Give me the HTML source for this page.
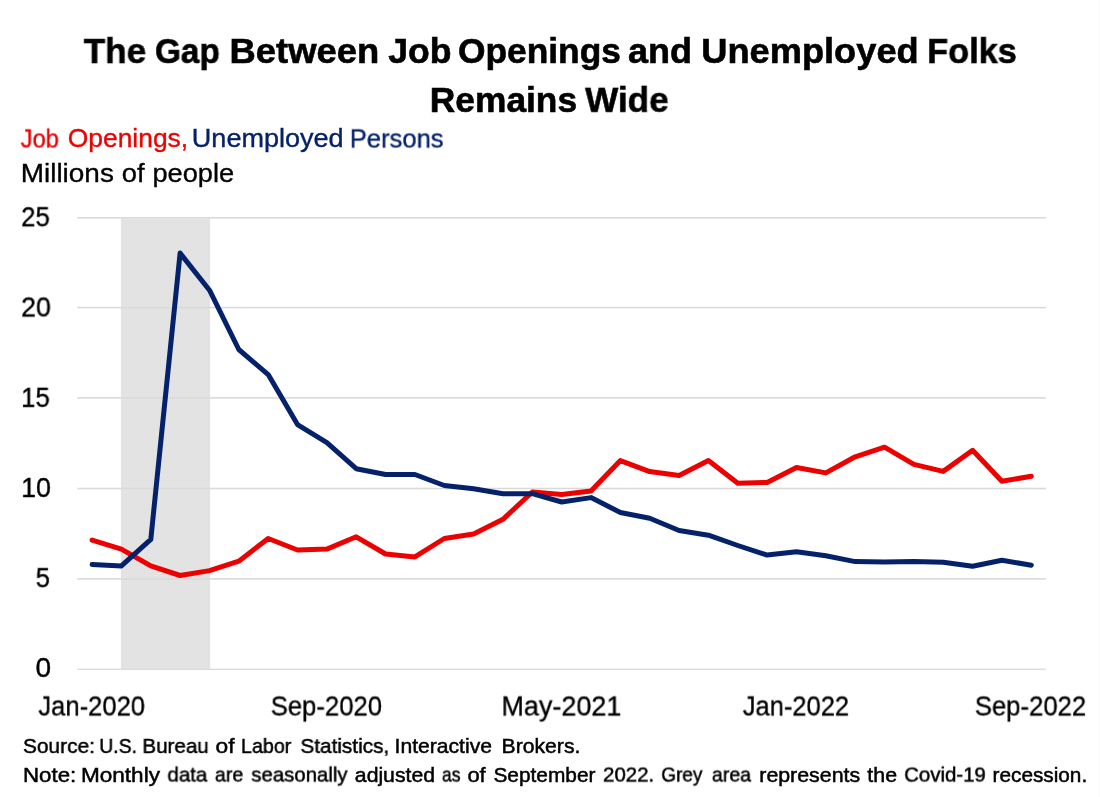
<!DOCTYPE html>
<html><head><meta charset="utf-8"><title>The Gap Between Job Openings and Unemployed Folks Remains Wide</title>
<style>
html,body{margin:0;padding:0;background:#fff}
body{width:1100px;height:797px;position:relative;overflow:hidden;font-family:"Liberation Sans",sans-serif}
.g{margin:0;padding:0;font-size:16px;font-weight:400}
.t{display:block;position:absolute;left:0;top:0;white-space:nowrap;line-height:1;transform-origin:0 0;will-change:transform;font-family:"Liberation Sans",sans-serif}
</style></head><body>
<svg width="1100" height="797" viewBox="0 0 1100 797" style="position:absolute;left:0;top:0">
<defs><pattern id="dt" width="2" height="2" patternUnits="userSpaceOnUse"><rect width="2" height="2" fill="#e4e4e4"/><rect width="1" height="1" fill="#dfdfdf"/></pattern></defs>
<rect x="120.9" y="218.6" width="89.2" height="450.8" fill="url(#dt)"/>
<rect x="77.2" y="217.00" width="968.7" height="1.6" fill="#dadada"/><rect x="77.2" y="306.80" width="968.7" height="1.6" fill="#dadada"/><rect x="77.2" y="397.10" width="968.7" height="1.6" fill="#dadada"/><rect x="77.2" y="487.70" width="968.7" height="1.6" fill="#dadada"/><rect x="77.2" y="578.10" width="968.7" height="1.6" fill="#dadada"/><rect x="77.2" y="668.60" width="968.7" height="1.5" fill="#dddddd"/>
<polyline points="92.1,540.1 121.4,549.1 150.8,565.9 180.1,575.5 209.5,570.6 238.8,561.2 268.2,538.5 297.5,550.0 326.9,549.1 356.2,536.8 385.6,554.0 414.9,556.9 444.3,538.5 473.6,534.0 503.0,519.3 532.3,492.0 561.7,494.6 591.0,491.1 620.4,460.6 649.7,471.6 679.1,475.6 708.4,460.6 737.8,483.2 767.1,482.5 796.5,467.5 825.8,472.9 855.2,456.8 884.5,447.2 913.9,464.4 943.2,471.4 972.6,450.3 1001.9,481.2 1031.3,476.3" fill="none" stroke="#ec0000" stroke-width="5" stroke-linejoin="round" stroke-linecap="round"/>
<polyline points="92.1,564.5 121.4,565.9 150.8,539.4 180.1,253.1 209.5,290.2 238.8,349.5 268.2,374.6 297.5,424.6 326.9,442.7 356.2,468.7 385.6,474.5 414.9,474.5 444.3,485.5 473.6,488.8 503.0,493.8 532.3,493.7 561.7,502.0 591.0,497.6 620.4,512.5 649.7,518.2 679.1,530.5 708.4,535.2 737.8,545.5 767.1,555.1 796.5,551.7 825.8,555.8 855.2,561.6 884.5,562.1 913.9,561.6 943.2,562.3 972.6,566.3 1001.9,560.3 1031.3,565.2" fill="none" stroke="#04216a" stroke-width="5" stroke-linejoin="round" stroke-linecap="round"/>
<rect x="1098" y="0" width="2" height="797" fill="#fcfcfc"/>
</svg>
<h1 class="g title">
<span class="t" style="font-size:35.17px;font-weight:700;color:#000;-webkit-text-stroke:0.6px #000;transform:translate3d(83.69px,33.05px,0) scaleX(0.9990)">The</span>
<span class="t" style="font-size:35.17px;font-weight:700;color:#000;-webkit-text-stroke:0.6px #000;transform:translate3d(154.97px,33.05px,0) scaleX(0.9471)">Gap</span>
<span class="t" style="font-size:35.17px;font-weight:700;color:#000;-webkit-text-stroke:0.6px #000;transform:translate3d(229.50px,33.05px,0) scaleX(1.0350)">Between</span>
<span class="t" style="font-size:35.17px;font-weight:700;color:#000;-webkit-text-stroke:0.6px #000;transform:translate3d(388.26px,33.05px,0) scaleX(1.0124)">Job</span>
<span class="t" style="font-size:35.17px;font-weight:700;color:#000;-webkit-text-stroke:0.6px #000;transform:translate3d(457.89px,33.05px,0) scaleX(1.0057)">Openings</span>
<span class="t" style="font-size:35.17px;font-weight:700;color:#000;-webkit-text-stroke:0.6px #000;transform:translate3d(628.11px,33.05px,0) scaleX(1.0233)">and</span>
<span class="t" style="font-size:35.17px;font-weight:700;color:#000;-webkit-text-stroke:0.6px #000;transform:translate3d(701.25px,33.05px,0) scaleX(1.0306)">Unemployed</span>
<span class="t" style="font-size:35.17px;font-weight:700;color:#000;-webkit-text-stroke:0.6px #000;transform:translate3d(927.12px,33.05px,0) scaleX(0.9768)">Folks</span>
<span class="t" style="font-size:35.32px;font-weight:700;color:#000;-webkit-text-stroke:0.6px #000;transform:translate3d(429.87px,81.85px,0) scaleX(1.0000)">Remains</span>
<span class="t" style="font-size:35.32px;font-weight:700;color:#000;-webkit-text-stroke:0.6px #000;transform:translate3d(585.17px,81.85px,0) scaleX(0.9926)">Wide</span>
</h1>
<div class="g legend">
<span class="t" style="font-size:26.38px;font-weight:400;color:#ec0000;-webkit-text-stroke:0.35px #ec0000;transform:translate3d(20.64px,125.44px,0) scaleX(0.9000)">Job</span>
<span class="t" style="font-size:26.38px;font-weight:400;color:#ec0000;-webkit-text-stroke:0.35px #ec0000;transform:translate3d(67.79px,125.44px,0) scaleX(1.0007)">Openings,</span>
<span class="t" style="font-size:26.38px;font-weight:400;color:#04216a;-webkit-text-stroke:0.35px #04216a;transform:translate3d(191.80px,125.44px,0) scaleX(1.0255)">Unemployed</span>
<span class="t" style="font-size:26.38px;font-weight:400;color:#04216a;-webkit-text-stroke:0.35px #04216a;transform:translate3d(349.77px,125.44px,0) scaleX(0.9695)">Persons</span>
</div>
<div class="g units">
<span class="t" style="font-size:26.38px;font-weight:400;color:#000;-webkit-text-stroke:0.35px #000;transform:translate3d(20.68px,160.34px,0) scaleX(1.0599)">Millions</span>
<span class="t" style="font-size:26.38px;font-weight:400;color:#000;-webkit-text-stroke:0.35px #000;transform:translate3d(121.84px,160.34px,0) scaleX(1.0360)">of</span>
<span class="t" style="font-size:26.38px;font-weight:400;color:#000;-webkit-text-stroke:0.35px #000;transform:translate3d(152.49px,160.34px,0) scaleX(1.0303)">people</span>
</div>
<div class="g xaxis">
<span class="t" style="font-size:27.69px;font-weight:400;color:#000;-webkit-text-stroke:0.35px #000;transform:translate3d(38.36px,692.44px,0) scaleX(0.9242)">Jan-2020</span>
<span class="t" style="font-size:27.69px;font-weight:400;color:#000;-webkit-text-stroke:0.35px #000;transform:translate3d(270.71px,692.44px,0) scaleX(0.9268)">Sep-2020</span>
<span class="t" style="font-size:27.69px;font-weight:400;color:#000;-webkit-text-stroke:0.35px #000;transform:translate3d(501.41px,692.44px,0) scaleX(0.9746)">May-2021</span>
<span class="t" style="font-size:27.69px;font-weight:400;color:#000;-webkit-text-stroke:0.35px #000;transform:translate3d(742.76px,692.44px,0) scaleX(0.9209)">Jan-2022</span>
<span class="t" style="font-size:27.69px;font-weight:400;color:#000;-webkit-text-stroke:0.35px #000;transform:translate3d(974.81px,692.44px,0) scaleX(0.9271)">Sep-2022</span>
</div>
<p class="g source">
<span class="t" style="font-size:20.93px;font-weight:400;color:#000;-webkit-text-stroke:0.5px #000;transform:translate3d(22.95px,735.95px,0) scaleX(0.9973)">Source:</span>
<span class="t" style="font-size:20.93px;font-weight:400;color:#000;-webkit-text-stroke:0.5px #000;transform:translate3d(99.30px,735.95px,0) scaleX(0.9242)">U.S.</span>
<span class="t" style="font-size:20.93px;font-weight:400;color:#000;-webkit-text-stroke:0.5px #000;transform:translate3d(142.41px,735.95px,0) scaleX(0.9832)">Bureau</span>
<span class="t" style="font-size:20.93px;font-weight:400;color:#000;-webkit-text-stroke:0.5px #000;transform:translate3d(215.60px,735.95px,0) scaleX(1.0889)">of</span>
<span class="t" style="font-size:20.93px;font-weight:400;color:#000;-webkit-text-stroke:0.5px #000;transform:translate3d(241.02px,735.95px,0) scaleX(0.9397)">Labor</span>
<span class="t" style="font-size:20.93px;font-weight:400;color:#000;-webkit-text-stroke:0.5px #000;transform:translate3d(300.45px,735.95px,0) scaleX(0.9911)">Statistics,</span>
<span class="t" style="font-size:20.93px;font-weight:400;color:#000;-webkit-text-stroke:0.5px #000;transform:translate3d(394.58px,735.95px,0) scaleX(1.0090)">Interactive</span>
<span class="t" style="font-size:20.93px;font-weight:400;color:#000;-webkit-text-stroke:0.5px #000;transform:translate3d(501.62px,735.95px,0) scaleX(1.0107)">Brokers.</span>
</p>
<p class="g note">
<span class="t" style="font-size:20.49px;font-weight:400;color:#000;-webkit-text-stroke:0.5px #000;transform:translate3d(23.04px,764.55px,0) scaleX(1.0861)">Note:</span>
<span class="t" style="font-size:20.49px;font-weight:400;color:#000;-webkit-text-stroke:0.5px #000;transform:translate3d(81.02px,764.55px,0) scaleX(1.1001)">Monthly</span>
<span class="t" style="font-size:20.49px;font-weight:400;color:#000;-webkit-text-stroke:0.5px #000;transform:translate3d(167.43px,764.55px,0) scaleX(0.9978)">data</span>
<span class="t" style="font-size:20.49px;font-weight:400;color:#000;-webkit-text-stroke:0.5px #000;transform:translate3d(214.90px,764.55px,0) scaleX(0.9578)">are</span>
<span class="t" style="font-size:20.49px;font-weight:400;color:#000;-webkit-text-stroke:0.5px #000;transform:translate3d(251.29px,764.55px,0) scaleX(0.9941)">seasonally</span>
<span class="t" style="font-size:20.49px;font-weight:400;color:#000;-webkit-text-stroke:0.5px #000;transform:translate3d(354.85px,764.55px,0) scaleX(1.0341)">adjusted</span>
<span class="t" style="font-size:20.49px;font-weight:400;color:#000;-webkit-text-stroke:0.5px #000;transform:translate3d(441.96px,764.55px,0) scaleX(0.8509)">as</span>
<span class="t" style="font-size:20.49px;font-weight:400;color:#000;-webkit-text-stroke:0.5px #000;transform:translate3d(467.38px,764.55px,0) scaleX(1.0735)">of</span>
<span class="t" style="font-size:20.49px;font-weight:400;color:#000;-webkit-text-stroke:0.5px #000;transform:translate3d(493.40px,764.55px,0) scaleX(1.0186)">September</span>
<span class="t" style="font-size:20.49px;font-weight:400;color:#000;-webkit-text-stroke:0.5px #000;transform:translate3d(602.98px,764.55px,0) scaleX(0.9971)">2022.</span>
<span class="t" style="font-size:20.49px;font-weight:400;color:#000;-webkit-text-stroke:0.5px #000;transform:translate3d(661.24px,764.55px,0) scaleX(0.9247)">Grey</span>
<span class="t" style="font-size:20.49px;font-weight:400;color:#000;-webkit-text-stroke:0.5px #000;transform:translate3d(711.90px,764.55px,0) scaleX(0.9562)">area</span>
<span class="t" style="font-size:20.49px;font-weight:400;color:#000;-webkit-text-stroke:0.5px #000;transform:translate3d(759.28px,764.55px,0) scaleX(1.0418)">represents</span>
<span class="t" style="font-size:20.49px;font-weight:400;color:#000;-webkit-text-stroke:0.5px #000;transform:translate3d(867.36px,764.55px,0) scaleX(1.0430)">the</span>
<span class="t" style="font-size:20.49px;font-weight:400;color:#000;-webkit-text-stroke:0.5px #000;transform:translate3d(904.17px,764.55px,0) scaleX(0.9960)">Covid-19</span>
<span class="t" style="font-size:20.49px;font-weight:400;color:#000;-webkit-text-stroke:0.5px #000;transform:translate3d(992.56px,764.55px,0) scaleX(1.0134)">recession.</span>
</p>
<div class="g yaxis">
<span class="t" style="font-size:27.4px;font-weight:400;color:#000;-webkit-text-stroke:0.35px #000;transform:translate3d(21.16px,203.24px,0) scaleX(0.9395)">25</span>
<span class="t" style="font-size:27.4px;font-weight:400;color:#000;-webkit-text-stroke:0.35px #000;transform:translate3d(21.11px,293.44px,0) scaleX(0.9764)">20</span>
<span class="t" style="font-size:27.4px;font-weight:400;color:#000;-webkit-text-stroke:0.35px #000;transform:translate3d(21.15px,383.84px,0) scaleX(0.9396)">15</span>
<span class="t" style="font-size:27.11px;font-weight:400;color:#000;-webkit-text-stroke:0.35px #000;transform:translate3d(21.09px,473.95px,0) scaleX(0.9917)">10</span>
<span class="t" style="font-size:26.82px;font-weight:400;color:#000;-webkit-text-stroke:0.35px #000;transform:translate3d(35.67px,565.15px,0) scaleX(0.9582)">5</span>
<span class="t" style="font-size:26.74px;font-weight:400;color:#000;-webkit-text-stroke:0.35px #000;transform:translate3d(35.47px,655.40px,0) scaleX(1.0493)">0</span>
</div>
</body></html>
